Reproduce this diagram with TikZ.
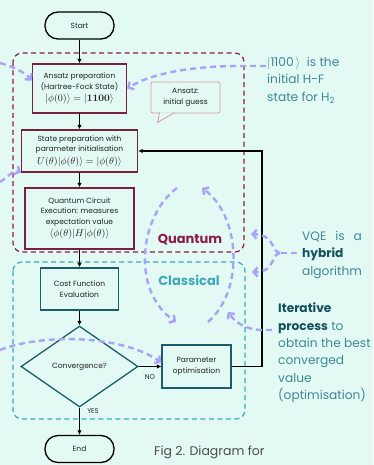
\documentclass[tikz,border=0pt]{standalone}
\usepackage[no-math]{fontspec}
\setmainfont{Poppins}
\usetikzlibrary{shapes.geometric,arrows.meta}
\definecolor{bgc}{HTML}{E2FAF3}
\definecolor{qredc}{HTML}{8C1C45}
\definecolor{qboxc}{HTML}{762042}
\definecolor{cdashc}{HTML}{40A8B8}
\definecolor{cboxc}{HTML}{1D5D6B}
\definecolor{lavc}{HTML}{A8A3F7}
\definecolor{rtextc}{HTML}{3F8795}
\definecolor{rboldc}{HTML}{15505F}
\definecolor{bubc}{HTML}{D79AA3}
\definecolor{txtc}{HTML}{222222}
\newcommand\boxfont{\fontsize{7.5}{10.5}\selectfont}
\newcommand\mathfnt{\fontsize{10}{11}\selectfont}
\newcommand\sidefont{\fontsize{12.2}{17.3}\selectfont}
\begin{document}
\begin{tikzpicture}[x=1pt,y=-1pt,
  qbox/.style={draw=qboxc, line width=1.3pt, align=center, font=\boxfont, text=txtc, inner sep=1pt},
  cbox/.style={draw=cboxc, line width=1.3pt, align=center, font=\boxfont, text=txtc, inner sep=1pt},
  term/.style={draw=black, line width=1.3pt, rounded corners=13pt, minimum width=69pt, minimum height=27pt, font=\boxfont, text=txtc},
  arr/.style={-{Latex[length=4.5pt,width=4.5pt]}, line width=1.1pt, draw=black},
  qcont/.style={draw=qredc, line width=1.2pt, dash pattern=on 5pt off 3.5pt, rounded corners=9pt},
  ccont/.style={draw=cdashc, line width=1.2pt, dash pattern=on 5pt off 3.5pt, rounded corners=9pt},
  lav/.style={draw=lavc, line width=2.4pt, dash pattern=on 6pt off 4pt},
  lavarr/.style={lav, -{Straight Barb[length=4pt,width=9pt]}},
  side/.style={font=\sidefont, text=rtextc, align=left, inner sep=0pt, anchor=north west},
  smalllab/.style={font=\fontsize{6.8}{7}\selectfont, text=txtc, inner sep=0pt}
]
\useasboundingbox (0,0) rectangle (373,465);
\fill[bgc] (0,0) rectangle (373,465);

% containers
\draw[qcont] (13,53) rectangle (244,252);
\draw[ccont] (13,262) rectangle (245,419);
\node[font=\fontsize{13}{14}\selectfont\bfseries, text=qredc] (qlab) at (190,240) {Quantum};
\node[font=\fontsize{13}{14}\selectfont\bfseries, text=cdashc] (clab) at (189,280) {Classical};

% flow nodes
\node[term] (start) at (79.5,25.5) {Start};
\node[qbox, minimum width=94pt, minimum height=49pt] (ansatz) at (79.5,88.5)
  {Ansatz preparation\\(Hartree-Fock State)\\[2pt]{\mathfnt$|\phi(0)\rangle = |\mathbf{1100}\rangle$}};
\node[qbox, minimum width=116pt, minimum height=42pt] (state) at (79.5,151)
  {State preparation with\\parameter initialisation\\[2pt]{\mathfnt$U(\theta)|\phi(\theta)\rangle = |\phi(\theta)\rangle$}};
\node[qbox, minimum width=109pt, minimum height=61pt] (qc) at (79.5,218.5)
  {Quantum Circuit\\Execution: measures\\expectation value\\[2pt]{\mathfnt$\langle\phi(\theta)|H|\phi(\theta)\rangle$}};
\node[cbox, minimum width=78pt, minimum height=42pt] (cost) at (79.5,289)
  {Cost Function\\Evaluation};
\node[cbox, shape=diamond, minimum width=117pt, minimum height=81pt, inner sep=0pt] (conv) at (79.5,366.5)
  {Convergence?};
\node[cbox, minimum width=69pt, minimum height=43pt] (param) at (196.5,366.5)
  {Parameter\\optimisation};
\node[term] (end) at (79.5,449) {End};

% bubble
\node[draw=bubc, line width=0.8pt, rounded corners=2pt, minimum width=69pt, minimum height=31pt,
  align=center, font=\boxfont, text=txtc, inner sep=1pt] (bub) at (185.5,97.5) {Ansatz:\\initial guess};
\path[fill=bgc, draw=bubc, line width=0.8pt]
  ([xshift=9pt,yshift=0.8pt]bub.south west) -- ([xshift=7pt,yshift=-9pt]bub.south west)
  -- ([xshift=24pt,yshift=0.8pt]bub.south west);

% connectors
\draw[arr] (start.south) -- (ansatz.north);
\draw[arr] (ansatz.south) -- (state.north);
\draw[arr] (state.south) -- (qc.north);
\draw[arr] (qc.south) -- (cost.north);
\draw[arr] (cost.south) -- (conv.north);
\draw[arr] (conv.east) -- (param.west);
\draw[arr] (conv.south) -- (end.north);
\coordinate (fb1) at (262,366.5);
\coordinate (fb2) at (262,151);
\draw[arr] (param.east) -- (fb1) -- (fb2) -- (state.east);
\node[smalllab] (nolab) at (150,377) {NO};
\node[smalllab] (yeslab) at (93,411) {YES};

% side texts
\node[side] (t1100) at (267,57) {$|$1100\,$\rangle$\ \ is the\\initial H-F\\state for H\textsubscript{2}};
\node[side] (thybrid) at (302,231) {VQE\hspace{9pt}is\hspace{9pt}a\\\textcolor{rboldc}{\textbf{hybrid}}\\algorithm};
\node[side] (titer) at (278,303) {\textcolor{rboldc}{\textbf{Iterative}}\\\textcolor{rboldc}{\textbf{process}} to\\obtain the best\\converged\\value\\(optimisation)};
\node[font=\fontsize{12.5}{13}\selectfont, text=black!70, anchor=west, inner sep=0pt] (fig) at (154,452) {Fig 2. Diagram for};

% lavender annotation arrows
\coordinate (a1) at (266,66);
\draw[lavarr] (a1) -- (240,66) .. controls (190,66) and (150,74) .. (ansatz.east);
\coordinate (l1) at (0,63);
\draw[lavarr] (l1) .. controls (14,67) and (24,72) .. ([yshift=8pt]ansatz.west);
\coordinate (l2) at (0,182);
\draw[lavarr] (l2) .. controls (8,177) and (14,169) .. (state.south west);
\coordinate (l3) at (0,350);
\draw[lavarr] (l3) .. controls (40,334) and (120,334) .. ([yshift=4pt]param.west);
\coordinate (e1) at (177,188);
\coordinate (e2) at (176,322);
\coordinate (e3) at (208,322);
\coordinate (e4) at (202,188);
\draw[lavarr] (e1) .. controls (140,215) and (130,290) .. (e2);
\draw[lavarr] (e3) .. controls (245,290) and (240,215) .. (e4);
\coordinate (i1) at (272,330);
\draw[lavarr] (i1) -- (264,330) .. controls (246,330) and (236,323) .. (228,312);
\coordinate (h1) at (297,253);
\coordinate (h2) at (280,253);
\draw[lav] (h1) -- (h2);
\draw[lavarr] (h2) .. controls (270,251) and (276,235) .. (251,234);
\draw[lavarr] (h2) .. controls (270,255) and (276,272) .. (252,272);
\end{tikzpicture}
\end{document}
